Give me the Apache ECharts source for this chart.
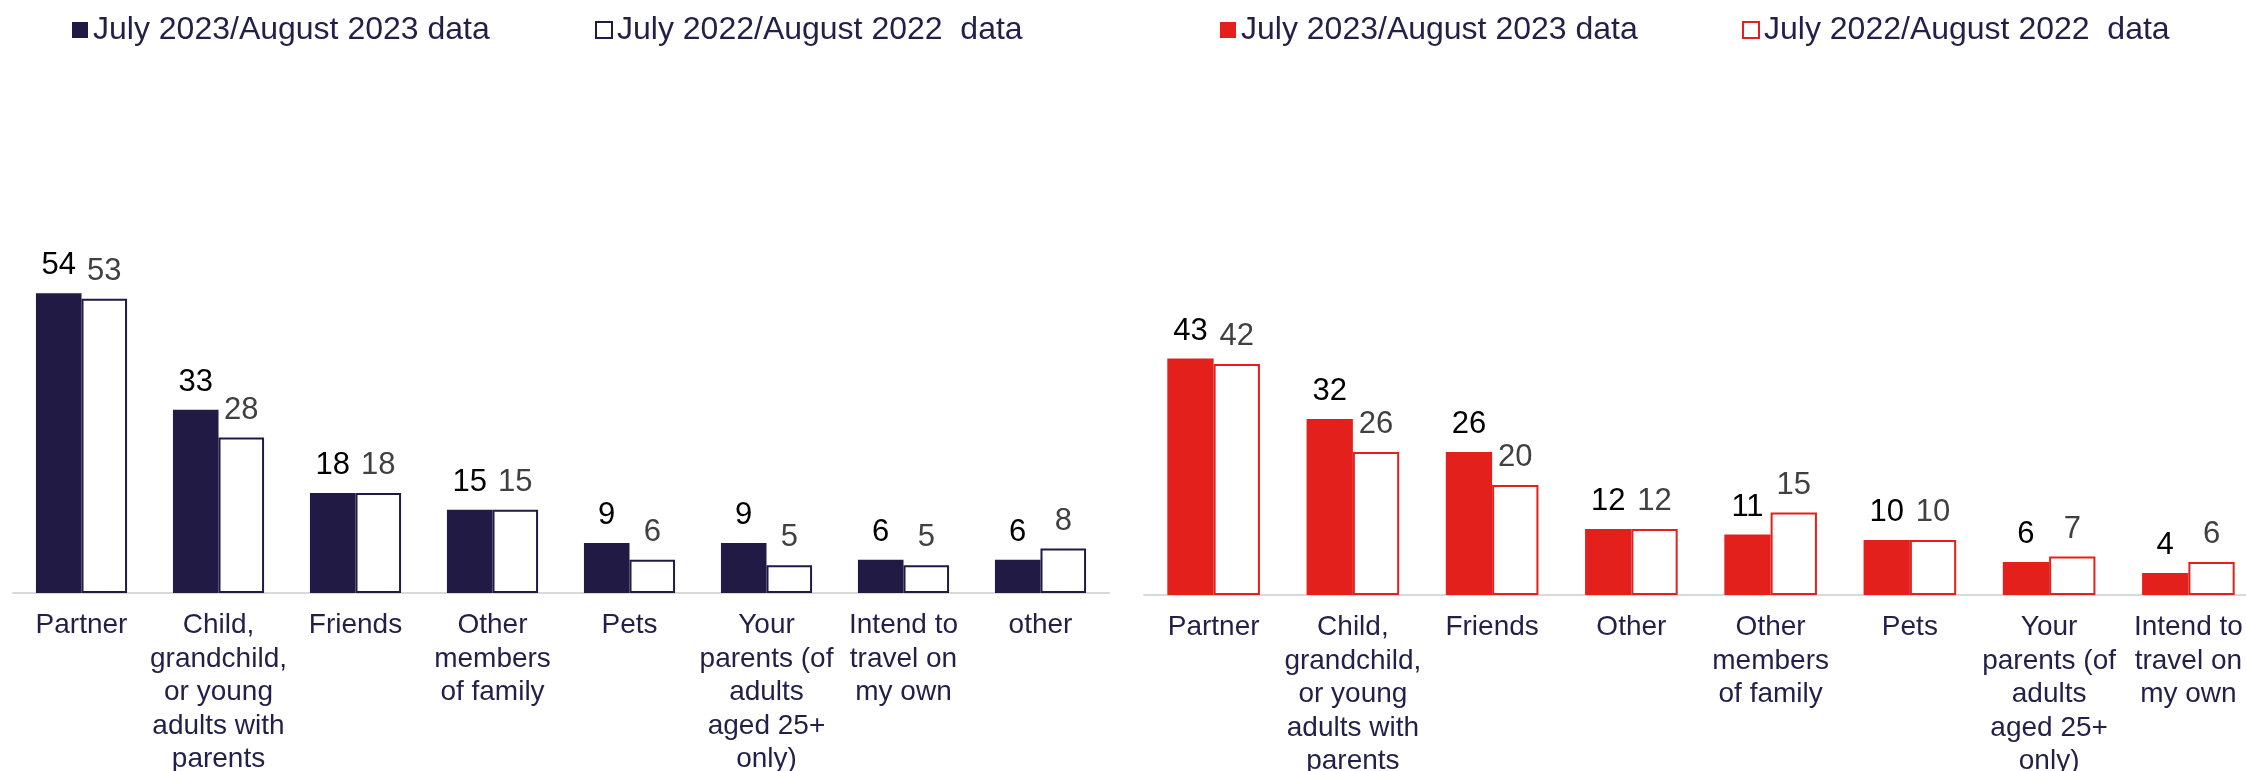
<!DOCTYPE html>
<html>
<head>
<meta charset="utf-8">
<script src="https://cdn.jsdelivr.net/npm/echarts@6/dist/echarts.min.js"></script>
<style>
html,body{margin:0;padding:0;background:#fff;}
#chart{width:2246px;height:771px;}
</style>
</head>
<body>
<div id="chart"></div>
<script>
// ---- Data ----
const leftCategories = [
  'Partner',
  'Child,\ngrandchild,\nor young\nadults with\nparents',
  'Friends',
  'Other\nmembers\nof family',
  'Pets',
  'Your\nparents (of\nadults\naged 25+\nonly)',
  'Intend to\ntravel on\nmy own',
  'other'
];
const left2023 = [54, 33, 18, 15, 9, 9, 6, 6];
const left2022 = [53, 28, 18, 15, 6, 5, 5, 8];

const rightCategories = [
  'Partner',
  'Child,\ngrandchild,\nor young\nadults with\nparents',
  'Friends',
  'Other',
  'Other\nmembers\nof family',
  'Pets',
  'Your\nparents (of\nadults\naged 25+\nonly)',
  'Intend to\ntravel on\nmy own'
];
const right2023 = [43, 32, 26, 12, 11, 10, 6, 4];
const right2022 = [42, 26, 20, 12, 15, 10, 7, 6];

const name2023 = 'July 2023/August 2023 data';
const name2022 = 'July 2022/August 2022  data';
const name2023r = 'July 2023/August 2023 data ';
const name2022r = 'July 2022/August 2022  data ';

// ---- Styles ----
const FONT = '"Liberation Sans", Arial, sans-serif';
const NAVY = '#211a44';
const RED = '#e3201b';
const TEXT = '#231f48';

const chart = echarts.init(document.getElementById('chart'), null, {renderer: 'canvas'});

function valueLabel(color) {
  return {show: true, position: 'top', distance: 12, color: color,
          fontSize: 31, fontFamily: FONT};
}
function catAxis(idx, data) {
  return {
    type: 'category', gridIndex: idx, data: data,
    axisLine: {show: true, lineStyle: {color: '#d9d9d9', width: 2}},
    axisTick: {show: false},
    axisLabel: {interval: 0, color: TEXT, fontSize: 28, lineHeight: 33.5,
                fontFamily: FONT, margin: 16}
  };
}
function valAxis(idx) {
  return {type: 'value', gridIndex: idx, min: 0, max: 60, show: false,
          splitLine: {show: false}};
}
function legend(name, left) {
  return {
    data: [name], left: left, top: 9, itemWidth: 16, itemHeight: 16,
    itemGap: 0, icon: 'rect',
    textStyle: {color: TEXT, fontSize: 32, fontFamily: FONT, padding: [0, 0, 0, 0]},
    selectedMode: false
  };
}

const option = {
  animation: false,
  backgroundColor: '#fff',
  legend: [
    legend(name2023, 67),
    legend(name2022, 590),
    legend(name2023r, 1215),
    legend(name2022r, 1737)
  ],
  grid: [
    {left: 13, width: 1096, top: 260, height: 333, containLabel: false, outerBoundsMode: 'none'},
    {left: 1144, width: 1114, top: 265, height: 330, containLabel: false, outerBoundsMode: 'none'}
  ],
  xAxis: [catAxis(0, leftCategories), catAxis(1, rightCategories)],
  yAxis: [valAxis(0), valAxis(1)],
  series: [
    {name: name2023, type: 'bar', xAxisIndex: 0, yAxisIndex: 0, data: left2023,
     barGap: '0%', barCategoryGap: '33.5%',
     itemStyle: {color: NAVY}, label: valueLabel('#000000')},
    {name: name2022, type: 'bar', xAxisIndex: 0, yAxisIndex: 0, data: left2022,
     barGap: '0%', barCategoryGap: '33.5%',
     itemStyle: {color: '#ffffff', borderColor: NAVY, borderWidth: 2},
     label: valueLabel('#404040')},
    {name: name2023r, type: 'bar', xAxisIndex: 1, yAxisIndex: 1, data: right2023,
     barGap: '0%', barCategoryGap: '33.5%',
     itemStyle: {color: RED}, label: valueLabel('#000000')},
    {name: name2022r, type: 'bar', xAxisIndex: 1, yAxisIndex: 1, data: right2022,
     barGap: '0%', barCategoryGap: '33.5%',
     itemStyle: {color: '#ffffff', borderColor: RED, borderWidth: 2},
     label: valueLabel('#404040')}
  ]
};
chart.setOption(option);
</script>
</body>
</html>
